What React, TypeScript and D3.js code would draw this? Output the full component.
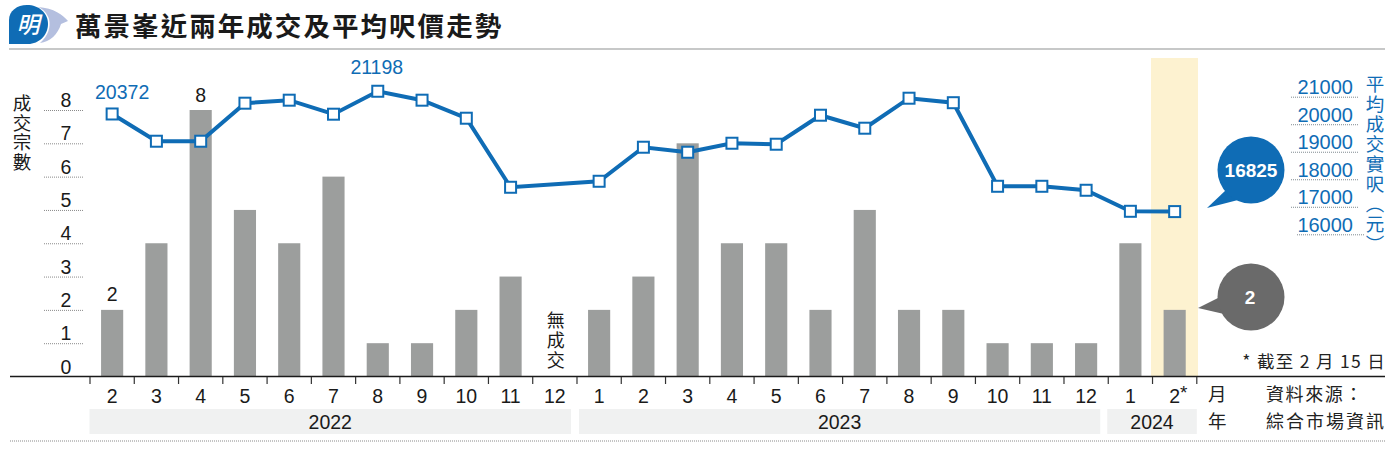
import React, { useEffect, useRef } from 'react';
import * as d3 from 'd3';

const months = ['2', '3', '4', '5', '6', '7', '8', '9', '10', '11', '12', '1', '2', '3', '4', '5', '6', '7', '8', '9', '10', '11', '12', '1', '2'];
const years = ['2022', '2022', '2022', '2022', '2022', '2022', '2022', '2022', '2022', '2022', '2022', '2023', '2023', '2023', '2023', '2023', '2023', '2023', '2023', '2023', '2023', '2023', '2023', '2024', '2024'];
const deals = [2, 4, 8, 5, 4, 6, 1, 1, 2, 3, 0, 2, 3, 7, 4, 4, 2, 5, 2, 2, 1, 1, 1, 4, 2];
const prices = [20372, 19382, 19382, 20764, 20873, 20364, 21198, 20873, 20218, 17709, null, 17927, 19164, 18982, 19309, 19273, 20327, 19855, 20945, 20782, 17745, 17745, 17600, 16836, 16825];
const dealTicks = [0, 1, 2, 3, 4, 5, 6, 7, 8];
const priceTicks = [16000, 17000, 18000, 19000, 20000, 21000];
const yearList = ['2022', '2023', '2024'];

const BLUE = '#0f6cb5';
const SANS = '"Liberation Sans", Arial, sans-serif';
const CJK = '"Noto Sans CJK TC", sans-serif';

export default function App() {
  const svgRef = useRef<SVGSVGElement>(null);

  useEffect(() => {
    const svg = d3.select(svgRef.current);
    svg.selectAll('*').remove();

    const keys = months.map((m, i) => `${years[i]}-${i}`);
    const x = d3.scaleBand().domain(keys).range([90, 1196.8]).paddingInner(0.5).paddingOuter(0.25);
    const step = x.step();
    const yDeals = d3.scaleLinear().domain([0, 8]).range([376.5, 110]);
    const yPrice = d3.scaleLinear().domain([16000, 21000]).range([234.3, 96.7]);
    const cx = (i: number) => x(keys[i])! + x.bandwidth() / 2;

    // logo
    const logo = svg.append('g');
    logo.append('path')
      .attr('d', 'M38 7 C54 8 63 15 68 21 L61 24 C58 34 50 42 40 43 C48 36 51 27 49 19 C47 13 43 9 38 7 Z')
      .attr('fill', '#b4bfdf');
    logo.append('path')
      .attr('d', 'M9 44 L9 20 C9 11 17 5 27 5 C39 5 48 13 48 24 C48 35 39 44 28 44 Z')
      .attr('fill', BLUE);
    logo.append('text')
      .attr('transform', 'translate(28,33) skewX(-14)')
      .attr('text-anchor', 'middle')
      .attr('font-family', CJK)
      .attr('font-weight', 500)
      .attr('font-size', 23)
      .attr('fill', '#fff')
      .text('明');

    svg.append('text')
      .attr('x', 75).attr('y', 36)
      .attr('font-family', CJK)
      .attr('font-weight', 700)
      .attr('font-size', 26.5)
      .attr('letter-spacing', 2.05)
      .attr('fill', '#1a1a1a')
      .text('萬景峯近兩年成交及平均呎價走勢');

    svg.append('line')
      .attr('x1', 9).attr('x2', 1385).attr('y1', 49).attr('y2', 49)
      .attr('stroke', '#8f9191').attr('stroke-width', 1.2);

    // highlighted month
    svg.append('rect')
      .attr('x', 1151).attr('y', 58).attr('width', 47).attr('height', 318.5)
      .attr('fill', '#fdf2d0');

    // left axis
    const leftAxis = svg.append('g')
      .attr('transform', 'translate(83,0)')
      .call(d3.axisLeft(yDeals).tickValues(dealTicks).tickSize(39).tickFormat(d3.format('d')));
    leftAxis.select('.domain').remove();
    leftAxis.selectAll('.tick line')
      .attr('stroke', '#8a8a8a').attr('stroke-width', 1).attr('stroke-dasharray', '1 1')
      .attr('display', (d: any) => (d === 0 ? 'none' : null));
    leftAxis.selectAll('.tick text')
      .attr('x', -17).attr('dy', -3.5)
      .attr('text-anchor', 'middle')
      .attr('font-family', SANS).attr('font-size', 19.5).attr('fill', '#1a1a1a');

    // bars
    svg.selectAll('.bar')
      .data(deals)
      .enter()
      .append('rect')
      .attr('class', 'bar')
      .attr('x', (_, i) => x(keys[i])!)
      .attr('y', d => yDeals(d))
      .attr('width', x.bandwidth())
      .attr('height', d => yDeals(0) - yDeals(d))
      .attr('fill', '#9c9e9d');

    // baseline and month ticks
    svg.append('line')
      .attr('x1', 10).attr('x2', 1385).attr('y1', 376.5).attr('y2', 376.5)
      .attr('stroke', '#1a1a1a').attr('stroke-width', 1.4);
    svg.selectAll('.mtick')
      .data(d3.range(keys.length + 1))
      .enter()
      .append('line')
      .attr('class', 'mtick')
      .attr('x1', i => 90 + i * step).attr('x2', i => 90 + i * step)
      .attr('y1', 377).attr('y2', 384)
      .attr('stroke', '#333').attr('stroke-width', 1.2);

    // month labels
    svg.selectAll('.mlabel')
      .data(months)
      .enter()
      .append('text')
      .attr('class', 'mlabel')
      .attr('x', (_, i) => cx(i))
      .attr('y', 403)
      .attr('text-anchor', 'middle')
      .attr('font-family', SANS).attr('font-size', 19.5).attr('fill', '#1a1a1a')
      .text(d => d);
    svg.append('text')
      .attr('x', 1180).attr('y', 399)
      .attr('font-family', SANS).attr('font-size', 19).attr('fill', '#1a1a1a')
      .text('*');

    // year bands
    yearList.forEach(yr => {
      const idx = d3.range(keys.length).filter(i => years[i] === yr);
      const first = 90 + idx[0] * step;
      const last = 90 + (idx[idx.length - 1] + 1) * step;
      const x0 = yr === '2022' ? first - 0.5 : yr === '2023' ? first + 2 : first - 1;
      const x1 = yr === '2022' ? last - 6 : yr === '2023' ? last - 8 : last;
      svg.append('rect')
        .attr('x', x0).attr('y', 409).attr('width', x1 - x0).attr('height', 25)
        .attr('fill', '#f0f1f1');
      svg.append('text')
        .attr('x', (x0 + x1) / 2).attr('y', 429)
        .attr('text-anchor', 'middle')
        .attr('font-family', SANS).attr('font-size', 19.5).attr('fill', '#1a1a1a')
        .text(yr);
    });

    svg.append('line')
      .attr('x1', 10).attr('x2', 1385).attr('y1', 441).attr('y2', 441)
      .attr('stroke', '#8a8a8a').attr('stroke-width', 1.2).attr('stroke-dasharray', '1 1');

    // price line
    const points = prices
      .map((p, i) => ({ p, i }))
      .filter(d => d.p !== null) as { p: number; i: number }[];
    const line = d3.line<{ p: number; i: number }>()
      .x(d => cx(d.i))
      .y(d => yPrice(d.p));
    svg.append('path')
      .attr('d', line(points))
      .attr('fill', 'none')
      .attr('stroke', BLUE)
      .attr('stroke-width', 4);
    svg.selectAll('.marker')
      .data(points)
      .enter()
      .append('rect')
      .attr('class', 'marker')
      .attr('x', d => cx(d.i) - 5.5)
      .attr('y', d => yPrice(d.p) - 5.5)
      .attr('width', 11).attr('height', 11)
      .attr('fill', '#fff')
      .attr('stroke', BLUE)
      .attr('stroke-width', 2);

    // value labels
    const blueLabel = (lx: number, txt: number, y: number) => svg.append('text')
      .attr('x', lx).attr('y', y)
      .attr('text-anchor', 'middle')
      .attr('font-family', SANS).attr('font-size', 19.5).attr('fill', BLUE)
      .text(txt);
    blueLabel(cx(0) + 10, prices[0] as number, 99);
    blueLabel(cx(6) - 1, prices[6] as number, 74);
    [0, 2].forEach(i => {
      svg.append('text')
        .attr('x', cx(i)).attr('y', yDeals(deals[i]) - 8.5)
        .attr('text-anchor', 'middle')
        .attr('font-family', SANS).attr('font-size', 19.5).attr('fill', '#1a1a1a')
        .text(deals[i]);
    });

    // vertical texts
    const vertical = (txt: string, vx: number, vy: number, size: number, spacing: number, fill: string) =>
      svg.append('text')
        .attr('x', vx).attr('y', vy)
        .attr('font-family', CJK).attr('font-size', size)
        .attr('letter-spacing', spacing).attr('fill', fill)
        .style('writing-mode', 'vertical-rl')
        .text(txt);
    vertical('成交宗數', 22, 94, 18.5, 1, '#1a1a1a');
    vertical('無成交', cx(10) + 1, 311, 18, 2, '#1a1a1a');
    vertical('平均成交實呎（元）', 1375, 75, 18.5, 1.5, BLUE);

    // right axis
    const rightAxis = svg.append('g')
      .attr('transform', 'translate(1291,0)')
      .call(d3.axisRight(yPrice).tickValues(priceTicks).tickSize(67).tickFormat(d3.format('d')));
    rightAxis.select('.domain').remove();
    rightAxis.selectAll('.tick line')
      .attr('stroke', '#7f8a90').attr('stroke-width', 1).attr('stroke-dasharray', '1 1')
      .attr('transform', (d: any) => (d === 16000 ? 'translate(6,0)' : null));
    rightAxis.selectAll('.tick text')
      .attr('x', 62).attr('dy', -3)
      .attr('text-anchor', 'end')
      .attr('font-family', SANS).attr('font-size', 20).attr('fill', BLUE);

    // callouts
    const bubble = svg.append('g');
    bubble.append('path')
      .attr('d', 'M1207 208 L1226 190 L1238 200 Z').attr('fill', BLUE);
    bubble.append('circle')
      .attr('cx', 1251).attr('cy', 170).attr('r', 33.5).attr('fill', BLUE);
    bubble.append('text')
      .attr('x', 1251).attr('y', 176.5)
      .attr('text-anchor', 'middle')
      .attr('font-family', SANS).attr('font-weight', 700).attr('font-size', 19).attr('fill', '#fff')
      .text(prices[24] as number);
    bubble.append('path')
      .attr('d', 'M1198 308 L1222 296 L1224 314 Z').attr('fill', '#6a6a6a');
    bubble.append('circle')
      .attr('cx', 1251).attr('cy', 297).attr('r', 33.5).attr('fill', '#6a6a6a');
    bubble.append('text')
      .attr('x', 1250).attr('y', 303.5)
      .attr('text-anchor', 'middle')
      .attr('font-family', SANS).attr('font-weight', 700).attr('font-size', 19).attr('fill', '#fff')
      .text(deals[24]);

    // notes
    const note = (txt: string, nx: number, ny: number, size: number, spacing = 0, anchor = 'start') =>
      svg.append('text')
        .attr('x', nx).attr('y', ny)
        .attr('text-anchor', anchor)
        .attr('font-family', CJK).attr('font-size', size)
        .attr('letter-spacing', spacing).attr('fill', '#222')
        .text(txt);
    note('* 截至 2 月 15 日', 1386, 368, 17.5, 1.3, 'end');
    note('月', 1208, 401, 18.5);
    note('年', 1208, 428, 18.5);
    note('資料來源：', 1266, 401, 18, 1.6);
    note('綜合市場資訊', 1266, 428, 18, 2);
  }, []);

  return (
    <svg
      ref={svgRef}
      width={1400}
      height={454}
      style={{ position: 'absolute', left: 0, top: 0, background: '#fff' }}
    />
  );
}
